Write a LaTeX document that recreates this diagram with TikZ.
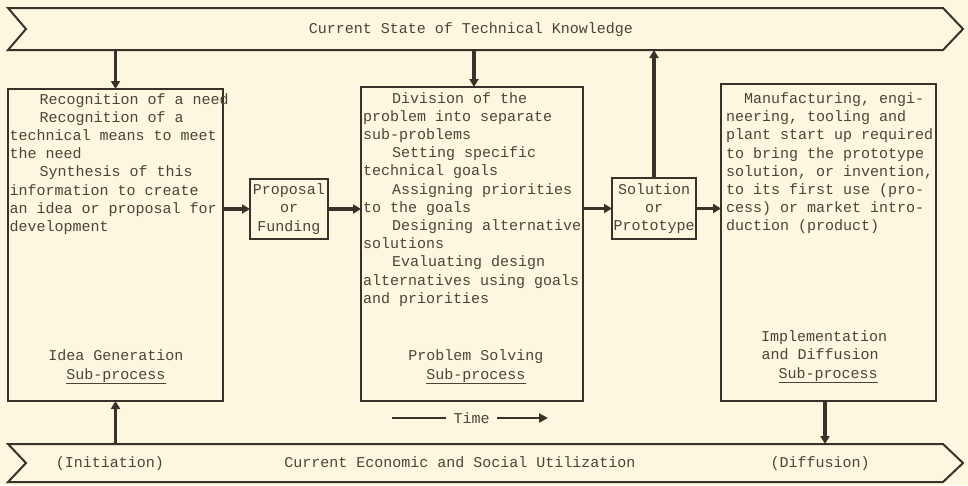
\documentclass[tikz,border=0pt]{standalone}
\usepackage{fontspec}
\setmainfont{Liberation Mono}
\usetikzlibrary{arrows.meta,calc}
\definecolor{paper}{HTML}{FBF8DF}
\definecolor{ink}{HTML}{37322A}
\definecolor{typeink}{HTML}{4A4536}
% fixed height for the first line of a text block
\newcommand\firstline{\rule{0pt}{12pt}}

\begin{document}
\begin{tikzpicture}[x=1pt,y=-1pt,
  every node/.style={inner sep=0pt, outer sep=0pt, text=typeink,
    font=\fontsize{15}{18.2}\selectfont},
  stagebox/.style={draw=ink, line width=1.8pt, rectangle},
  smallbox/.style={draw=ink, line width=1.8pt, rectangle, align=center},
  banner/.style={draw=ink, line width=2pt, line join=miter},
  flow/.style={draw=ink, line width=3.2pt, -{Triangle[length=8pt,width=9pt]}},
  timeline/.style={draw=ink, line width=2.2pt},
  boxtext/.style={anchor=north west, align=left},
  subtitle/.style={anchor=base},
  underbar/.style={draw=typeink, line width=1.1pt},
]
\fill[paper] (0,0) rectangle (968,485);
\useasboundingbox (0,0) rectangle (968,485);

% banners
\node[minimum width=935pt, minimum height=42pt] (tk) at (475.5,29) {};
\node[minimum width=935pt, minimum height=38pt] (eu) at (475.5,463) {};
\draw[banner] (tk.north west) -- (tk.north east) -- ($(tk.east)+(20,0)$)
  -- (tk.south east) -- (tk.south west) -- ($(tk.west)+(18,0)$) -- cycle;
\draw[banner] (eu.north west) -- (eu.north east) -- ($(eu.east)+(20,0)$)
  -- (eu.south east) -- (eu.south west) -- ($(eu.west)+(18,0)$) -- cycle;
\node[subtitle] (tktext) at (471,33) {Current State of Technical Knowledge};
\node[subtitle] (eutext) at (460,467) {Current Economic and Social Utilization};
\node[subtitle] (init) at (110,467) {(Initiation)};
\node[subtitle] (diff) at (820,467) {(Diffusion)};

% stage boxes
\node[stagebox, minimum width=215pt, minimum height=312pt] (idea) at (115.5,245) {};
\node[smallbox, minimum width=78pt, minimum height=60pt] (prop) at (289,209) {Proposal\\or\\Funding};
\node[stagebox, minimum width=222pt, minimum height=314pt] (prob) at (472,244) {};
\node[smallbox, minimum width=84pt, minimum height=61pt] (sol) at (654,208.5) {Solution\\or\\Prototype};
\node[stagebox, minimum width=215pt, minimum height=317pt] (impl) at (828.5,242.5) {};

% box contents
\node[boxtext] (ideatxt) at ($(idea.north west)+(1.5,3)$) {\firstline\hspace*{30pt}Recognition of a need\\
\hspace*{30pt}Recognition of a\\
technical means to meet\\
the need\\
\hspace*{30pt}Synthesis of this\\
information to create\\
an idea or proposal for\\
development};
\node[boxtext] (probtxt) at ($(prob.north west)+(2,4)$) {\firstline\hspace*{29pt}Division of the\\
problem into separate\\
sub-problems\\
\hspace*{29pt}Setting specific\\
technical goals\\
\hspace*{29pt}Assigning priorities\\
to the goals\\
\hspace*{29pt}Designing alternative\\
solutions\\
\hspace*{29pt}Evaluating design\\
alternatives using goals\\
and priorities};
\node[boxtext] (impltxt) at ($(impl.north west)+(5,7.5)$) {\firstline\hspace*{18pt}Manufacturing, engi-\\
neering, tooling and\\
plant start up required\\
to bring the prototype\\
solution, or invention,\\
to its first use (pro-\\
cess) or market intro-\\
duction (product)};

% stage titles
\node[subtitle] (ideaname) at (116,360.5) {Idea Generation};
\node[subtitle] (ideasub) at (116,379.5) {Sub-process};
\node[subtitle] (probname) at (476,360.5) {Problem Solving};
\node[subtitle] (probsub) at (476,379.5) {Sub-process};
\node[subtitle] (implname) at (824,341) {Implementation};
\node[subtitle] (impland) at (820,359.5) {and Diffusion};
\node[subtitle] (implsub) at (828,378.5) {Sub-process};
\foreach \s in {ideasub,probsub,implsub}
  \draw[underbar] ($(\s.base west)+(0,4)$) -- ($(\s.base east)+(0,4)$);

% flow arrows
\draw[flow] (idea.north |- tk.south) -- (idea.north);
\draw[flow] (474,0 |- tk.south) -- (474,0 |- prob.north);
\draw[flow] (sol.north) -- (sol.north |- tk.south);
\draw[flow] (idea.east |- prop.west) -- (prop.west);
\draw[flow] (prop.east) -- (prop.east -| prob.west);
\draw[flow] (prob.east |- sol.west) -- (sol.west);
\draw[flow] (sol.east) -- (sol.east -| impl.west);
\draw[flow] (idea.south |- eu.north) -- (idea.south);
\draw[flow] (825,0 |- impl.south) -- (825,0 |- eu.north);

% time axis
\node (time) at (471.5,418) {Time};
\coordinate (tstart) at (392,418);
\coordinate (tend) at (548,418);
\draw[timeline] (tstart) -- ($(time.west)+(-8,0)$);
\draw[timeline, -{Triangle[length=9pt,width=9pt]}] ($(time.east)+(7,0)$) -- (tend);
\end{tikzpicture}
\end{document}
